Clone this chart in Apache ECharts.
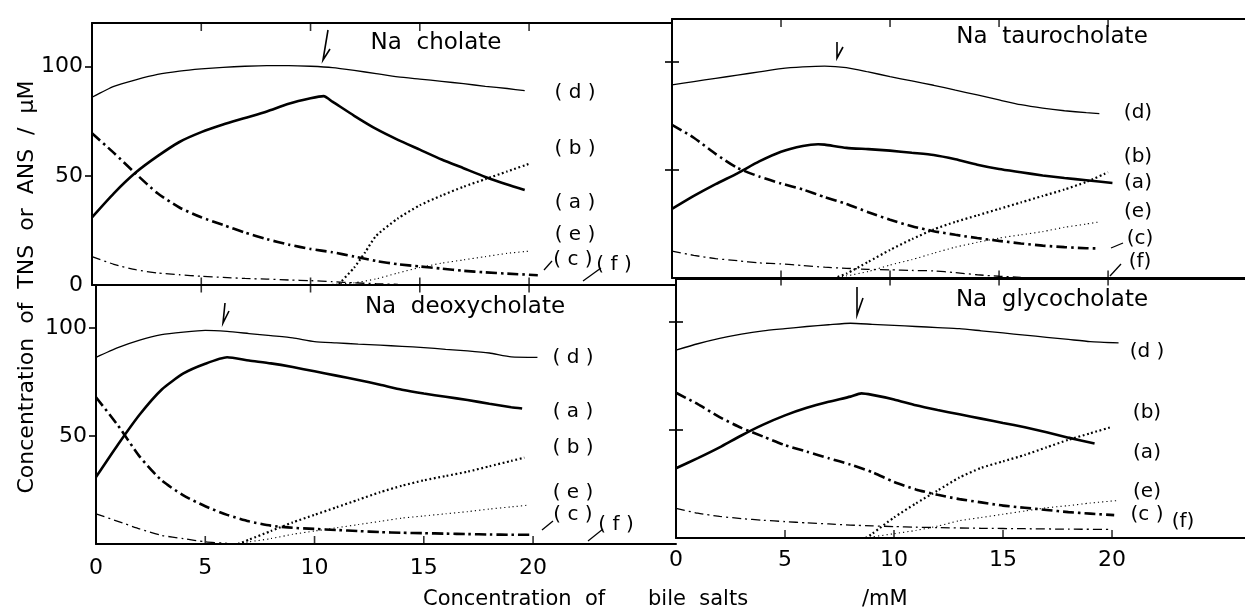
<!DOCTYPE html>
<html>
<head>
<meta charset="utf-8">
<script src="https://cdn.jsdelivr.net/npm/echarts@6/dist/echarts.min.js"></script>
<style>
html,body{margin:0;padding:0;background:#fff;}
#chart{width:1245px;height:610px;}
</style>
</head>
<body>
<div id="chart"></div>
<script>
// ---- data: [bile salt concentration (mM), probe concentration (uM)] ----
// Na cholate
const CHOLATE_A = [[0,31],[1,42],[2,51.5],[3,59],[4,65.5],[5,70],[6,73.5],[7,76.5],[8,79.5],[9,83],[10,85.5],[10.6,86.5],[11,84],[12,77.5],[13,71.5],[14,66.5],[15,62],[16,57.5],[17,53.5],[18,49.5],[19,46],[19.8,43.5]];
const CHOLATE_B = [[11.3,0.5],[12,8],[12.5,15],[13,22.5],[14,30.5],[15,36.5],[16,41],[17,45],[18,48.5],[19,52],[20,55.5]];
const CHOLATE_C = [[0,69.5],[1,60.5],[2,51],[3,42],[4,35.5],[5,31],[6,27.5],[7,24],[8,21],[9,18.5],[10,16.5],[11,15],[12,13],[13,11],[14,9.5],[15,8.5],[16,7.5],[17,6.5],[18,5.8],[19,5.2],[20.4,4.5]];
const CHOLATE_D = [[0,86],[1,91],[2,94],[3,96.5],[4,98],[5,99],[6,99.7],[7,100.2],[8,100.5],[9,100.5],[10,100.2],[11,99.6],[12,98.3],[13,96.8],[14,95.3],[15,94.3],[16,93.3],[17,92.2],[18,91],[19,90],[19.8,89]];
const CHOLATE_E = [[11,0.3],[12,1],[13,2.8],[14,5.5],[15,8],[16,10],[17,11.5],[18,13],[19,14.5],[20,15.5]];
const CHOLATE_F = [[0,13],[1,9.5],[2,7],[3,5.5],[4,4.7],[5,4],[6,3.5],[7,3],[8,2.7],[9,2.3],[10,2],[11,1.5],[12,1],[13,0.6],[14,0.3]];
// Na taurocholate
const TAURO_A = [[0,32],[1,38],[2,43.5],[3,48.5],[4,54],[5,58.5],[6,61.2],[6.7,62],[7,61.8],[8,60.3],[9,59.7],[10,59],[11,58],[12,57],[13,55],[14,52.5],[15,50.5],[16,49],[17,47.5],[18,46.3],[19,45.3],[20.2,44]];
const TAURO_B = [[7.6,0.5],[8,2],[9,7.5],[10,13],[11,18],[12,22.5],[13,26],[14,29],[15,32],[16,35],[17,38],[18,41],[19,44.5],[20,49]];
const TAURO_C = [[0,71],[1,65],[2,57.5],[3,51],[4,47],[5,43.8],[6,41],[7,37.5],[8,34.3],[9,30.5],[10,27],[11,24],[12,21.7],[13,20],[14,18.5],[15,17.2],[16,16],[17,15],[18,14.3],[19,13.8],[19.6,13.7]];
const TAURO_D = [[0,89.5],[1,91],[2,92.5],[3,94],[4,95.5],[5,97],[6,97.8],[7,98.2],[8,97.5],[9,95.5],[10,93.3],[11,91.3],[12,89.3],[13,87],[14,84.8],[15,82.5],[16,80.3],[17,78.7],[18,77.5],[19,76.6],[19.6,76.2]];
const TAURO_E = [[7.6,0.5],[8,1],[9,3],[10,6],[11,8.5],[12,11.5],[13,14.3],[14,16.5],[15,18.5],[16,20],[17,21.5],[18,23.5],[19,25],[19.6,26]];
const TAURO_F = [[0,12.5],[1,10.5],[2,9],[3,8],[4,7],[5,6.5],[6,5.8],[7,5],[8,4.5],[9,4],[10,3.8],[11,3.5],[12,3.3],[13,2.5],[14,1.5],[15,0.8],[16,0.3]];
// Na deoxycholate
const DEOXY_A = [[0,31],[1,46],[2,60],[3,71.5],[4,79],[5,83.5],[6,86.5],[7,85],[8,83.7],[9,82],[10,80],[11,78],[12,76],[13,73.8],[14,71.5],[15,69.7],[16,68.2],[17,66.7],[18,65],[19,63.4],[19.5,62.8]];
const DEOXY_B = [[6.5,0],[7,2],[8,6],[9,10],[10,13.5],[11,17],[12,20.5],[13,24],[14,27],[15,29.5],[16,31.5],[17,33.5],[18,36],[19,38.5],[19.6,40]];
const DEOXY_C = [[0,68],[1,55],[2,40.5],[3,29.5],[4,22.5],[5,17.5],[6,13.5],[7,10.5],[8,8.5],[9,7.5],[10,7],[11,6.5],[12,6],[13,5.5],[14,5.2],[15,5],[16,4.8],[17,4.6],[18,4.4],[19,4.3],[20,4.3]];
const DEOXY_D = [[0,86.5],[1,91],[2,94.5],[3,97],[4,98.2],[5,99],[6,98.5],[7,97.5],[8,96.5],[9,95.5],[10,93.8],[11,93.2],[12,92.6],[13,92.1],[14,91.6],[15,91],[16,90.2],[17,89.5],[18,88.5],[19,86.7],[20.2,86.5]];
const DEOXY_E = [[6.3,0],[7,1],[8,2.5],[9,4.5],[10,6],[11,7.5],[12,9],[13,10.5],[14,12],[15,13],[16,14],[17,15],[18,16.2],[19,17.2],[19.8,18]];
const DEOXY_F = [[0,14],[1,10.5],[2,7],[3,4],[4,2.5],[5,1],[6,0.3]];
// Na glycocholate
const GLYCO_A = [[0,32.3],[1,37],[2,42],[3,47.5],[4,52.5],[5,56.8],[6,60.3],[7,63.1],[8,65.5],[8.5,67],[9,66.3],[10,64.2],[11,61.5],[12,59.3],[13,57.3],[14,55.3],[15,53.3],[16,51.3],[17,49],[18,46.5],[19.2,43.8]];
const GLYCO_B = [[8.7,0],[9,2],[10,9.5],[11,16],[12,22],[13,28],[14,32.5],[15,35.5],[16,38.5],[17,42],[18,45.5],[19,48.5],[20,51.5]];
const GLYCO_C = [[0,67.3],[1,62],[2,56],[3,51],[4,47],[5,43],[6,40],[7,37],[8,34],[9,30.5],[10,26],[11,22.5],[12,20],[13,18],[14,16.5],[15,15],[16,14],[17,13],[18,12],[19,11.3],[20.1,10.6]];
const GLYCO_D = [[0,87],[1,90],[2,92.5],[3,94.5],[4,96],[5,97],[6,98],[7,98.8],[8,99.5],[9,99],[10,98.5],[11,98],[12,97.5],[13,97],[14,96],[15,95],[16,94],[17,93],[18,92],[19,91],[20.3,90.4]];
const GLYCO_E = [[8.7,0],[9,0.5],[10,2],[11,3.5],[12,5.5],[13,8],[14,9.5],[15,11],[16,12.5],[17,14],[18,15],[19,16.2],[20.2,17.3]];
const GLYCO_F = [[0,13.7],[1,11.5],[2,10],[3,9],[4,8.2],[5,7.6],[6,7],[7,6.5],[8,6],[9,5.6],[10,5.3],[11,5],[12,4.8],[14,4.5],[16,4.3],[18,4.1],[20,4]];

const PANEL_TITLES = ['Na  cholate', 'Na  taurocholate', 'Na  deoxycholate', 'Na  glycocholate'];
const X_TICKS = [0, 5, 10, 15, 20];
const X_MINOR_TICKS = [5, 10, 15, 20];
const Y_TICKS = [0, 50, 100];
const X_TITLE = ['Concentration  of', 'bile  salts', '/mM'];
const Y_TITLE = 'Concentration  of  TNS  or  ANS  /  \u03bcM';

// ---- layout / style ----
const FONT = "'DejaVu Sans', sans-serif";
const INK = '#000';
const panels = [
  {grid:{left:92, top:23, width:580, height:262}, xmax:26.54, right:false, bottom:false,
   curves:{a:CHOLATE_A,b:CHOLATE_B,c:CHOLATE_C,d:CHOLATE_D,e:CHOLATE_E,f:CHOLATE_F}, ylab:[0,50,100]},
  {grid:{left:672, top:19, width:573, height:259}, xmax:26.28, right:true, bottom:false,
   curves:{a:TAURO_A,b:TAURO_B,c:TAURO_C,d:TAURO_D,e:TAURO_E,f:TAURO_F}, ylab:[]},
  {grid:{left:96, top:285, width:580, height:259}, xmax:26.54, right:false, bottom:true,
   curves:{a:DEOXY_A,b:DEOXY_B,c:DEOXY_C,d:DEOXY_D,e:DEOXY_E,f:DEOXY_F}, ylab:[50,100], xmargin:13},
  {grid:{left:676, top:279, width:569, height:259}, xmax:26.1, right:true, bottom:true,
   curves:{a:GLYCO_A,b:GLYCO_B,c:GLYCO_C,d:GLYCO_D,e:GLYCO_E,f:GLYCO_F}, ylab:[], xmargin:11}
];
const LINE_STYLES = {
  a:{width:2.6, type:'solid'},
  d:{width:1.3, type:'solid'},
  c:{width:2.6, type:[11,4,2.5,4]},
  f:{width:1.3, type:[9,4,2,4]},
  b:{width:2.2, type:[1.8,2.6]},
  e:{width:1.1, type:[1.2,3]}
};

const grids = [], xAxes = [], yAxes = [], series = [];
function tickSeries(i, yVal, size, offset) {
  return {
    type:'scatter', xAxisIndex:2*i, yAxisIndex:i, silent:true, clip:false,
    data:X_MINOR_TICKS.map(v => [v, yVal]),
    symbol:'rect', symbolSize:size, symbolOffset:offset,
    itemStyle:{color:INK}
  };
}
panels.forEach((p, i) => {
  grids.push(Object.assign({containLabel:false}, p.grid));
  const base = {type:'value', gridIndex:i, min:0, max:p.xmax, splitLine:{show:false}};
  xAxes.push(Object.assign({}, base, {
    position:'bottom',
    axisLine:{show:true, onZero:false, lineStyle:{color:INK, width:2}},
    axisTick:{show:false},
    axisLabel:{show:p.bottom, customValues:X_TICKS, margin:p.xmargin||14, fontSize:22, fontFamily:FONT, color:INK}
  }));
  xAxes.push(Object.assign({}, base, {
    position:'top',
    axisLine:{show:true, onZero:false, lineStyle:{color:INK, width:2}},
    axisTick:{show:false},
    axisLabel:{show:false}
  }));
  yAxes[i] = {
    type:'value', gridIndex:i, min:0, max:120, position:'left', splitLine:{show:false},
    axisLine:{show:true, onZero:false, lineStyle:{color:INK, width:2}},
    axisTick:{show:true, inside:p.right, length:7, customValues:[50,100], lineStyle:{color:INK, width:1.6}},
    axisLabel:{show:!p.right, customValues:p.ylab.length?p.ylab:Y_TICKS, margin:9, fontSize:22, fontFamily:FONT, color:INK}
  };
  ['d','a','c','f','b','e'].forEach(k => {
    series.push({
      type:'line', xAxisIndex:2*i, yAxisIndex:i, data:p.curves[k],
      showSymbol:false, symbol:'none', smooth:0.2, silent:true,
      lineStyle:Object.assign({color:INK, cap:'butt'}, LINE_STYLES[k])
    });
  });
  if (!p.bottom) {
    series.push(tickSeries(i, 120, [1.6, 8], [0, 4]));   // ticks hanging from top border
    series.push(tickSeries(i, 0, [1.6, 15], [0, 0]));    // "+" ticks on the shared middle axis
  } else {
    series.push(tickSeries(i, 0, [1.6, 8], [0, -4]));    // ticks standing on bottom axis
  }
});
// outer half of the "+" ticks on right-panel y axes
[1,3].forEach(i => {
  yAxes.push({
    type:'value', gridIndex:i, min:0, max:120, position:'left', splitLine:{show:false},
    axisLine:{show:false},
    axisTick:{show:true, inside:false, length:7, customValues:[50,100], lineStyle:{color:INK, width:1.6}},
    axisLabel:{show:false}
  });
});

// ---- annotations ----
function txt(x, y, s, size, extra) {
  return Object.assign({type:'text', x:x, y:y, silent:true,
    style:{text:s, fill:INK, font:size + 'px ' + FONT, textAlign:'center', textVerticalAlign:'middle'}}, extra||{});
}
function seg(x1,y1,x2,y2,w) {
  return {type:'line', silent:true, shape:{x1:x1,y1:y1,x2:x2,y2:y2}, style:{stroke:INK, lineWidth:w||1.3}};
}
function arrow(pts) {
  return {type:'polyline', silent:true, shape:{points:pts}, style:{stroke:INK, lineWidth:1.6, fill:null}};
}
const LS = 20;
const graphic = [
  txt(436, 43, PANEL_TITLES[0], 23),
  txt(1052, 37, PANEL_TITLES[1], 23),
  txt(465, 307, PANEL_TITLES[2], 23),
  txt(1052, 300, PANEL_TITLES[3], 23),
  arrow([[328,30],[323,60],[330,49]]),
  arrow([[837,42],[837,58],[843,47]]),
  arrow([[225,303],[223,323],[229,311]]),
  arrow([[857,287],[857,315],[863,298]]),
  // top-left labels
  txt(575, 93, '( d )', LS), txt(575, 149, '( b )', LS), txt(575, 203, '( a )', LS),
  txt(575, 235, '( e )', LS), txt(573, 260, '( c )', LS), txt(614, 265, '( f )', LS),
  seg(544,270,552,261), seg(583,281,601,268),
  // top-right labels
  txt(1138, 113, '(d)', LS), txt(1138, 157, '(b)', LS), txt(1138, 183, '(a)', LS),
  txt(1138, 212, '(e)', LS), txt(1140, 239, '(c)', LS), txt(1140, 262, '(f)', LS),
  seg(1111,248,1123,243), seg(1110,276,1121,264),
  // bottom-left labels
  txt(573, 358, '( d )', LS), txt(573, 412, '( a )', LS), txt(573, 448, '( b )', LS),
  txt(573, 493, '( e )', LS), txt(573, 515, '( c )', LS), txt(616, 525, '( f )', LS),
  seg(542,530,553,521), seg(588,541,603,529),
  // bottom-right labels
  txt(1147, 352, '(d )', LS), txt(1147, 413, '(b)', LS), txt(1147, 453, '(a)', LS),
  txt(1147, 492, '(e)', LS), txt(1147, 515, '(c )', LS), txt(1183, 522, '(f)', LS),
  // axis titles
  txt(27, 287, Y_TITLE, 22, {rotation:Math.PI/2}),
  {type:'text', x:423, y:600, silent:true, style:{text:X_TITLE[0], fill:INK, font:'21px '+FONT, textAlign:'left', textVerticalAlign:'middle'}},
  {type:'text', x:648, y:600, silent:true, style:{text:X_TITLE[1], fill:INK, font:'21px '+FONT, textAlign:'left', textVerticalAlign:'middle'}},
  {type:'text', x:862, y:600, silent:true, style:{text:X_TITLE[2], fill:INK, font:'21px '+FONT, textAlign:'left', textVerticalAlign:'middle'}}
];

const chart = echarts.init(document.getElementById('chart'), null, {renderer:'canvas'});
chart.setOption({
  backgroundColor:'#fff',
  animation:false,
  grid:grids, xAxis:xAxes, yAxis:yAxes, series:series, graphic:graphic
});
</script>
</body>
</html>
